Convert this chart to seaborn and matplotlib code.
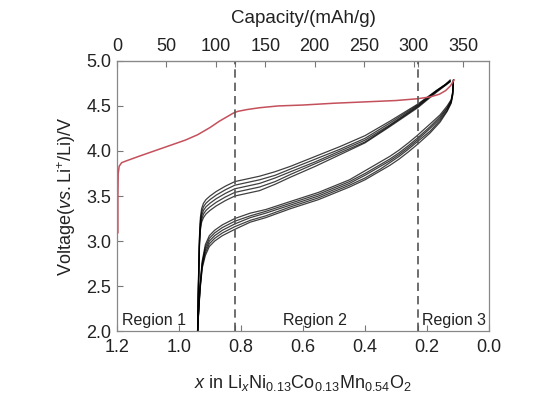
import numpy as np
import pandas as pd
import seaborn as sns
import matplotlib.pyplot as plt

# first charge (red)
first_x = [1.197, 1.197, 1.196, 1.193, 1.185, 1.170, 1.130, 1.080, 1.030, 0.980, 0.940, 0.900, 0.870, 0.845,
           0.825, 0.810, 0.780, 0.740, 0.680, 0.600, 0.500, 0.400, 0.300, 0.230, 0.190, 0.160, 0.140, 0.125, 0.112]
first_v = [3.09, 3.50, 3.75, 3.83, 3.87, 3.89, 3.94, 4.00, 4.06, 4.12, 4.18, 4.26, 4.33, 4.38,
           4.42, 4.44, 4.46, 4.48, 4.50, 4.51, 4.53, 4.545, 4.56, 4.58, 4.60, 4.63, 4.67, 4.72, 4.79]

# following charges (black, upper bundle)
chg_x = [0.940, 0.937, 0.934, 0.931, 0.927, 0.921, 0.913, 0.900, 0.880, 0.850, 0.820, 0.780,
         0.740, 0.690, 0.640, 0.560, 0.480, 0.400, 0.320, 0.230, 0.170, 0.140, 0.125]
chg_v = [
    [2.00, 2.60, 3.05, 3.26, 3.36, 3.42, 3.46, 3.50, 3.55, 3.61, 3.66, 3.69, 3.72, 3.77, 3.83, 3.94, 4.05, 4.17, 4.33, 4.52, 4.67, 4.74, 4.79],
    [2.00, 2.58, 3.02, 3.22, 3.32, 3.38, 3.42, 3.46, 3.51, 3.57, 3.62, 3.65, 3.68, 3.73, 3.80, 3.91, 4.02, 4.14, 4.31, 4.51, 4.67, 4.74, 4.78],
    [2.00, 2.55, 2.99, 3.19, 3.28, 3.34, 3.38, 3.42, 3.47, 3.53, 3.58, 3.61, 3.64, 3.70, 3.77, 3.88, 4.00, 4.12, 4.29, 4.50, 4.66, 4.74, 4.78],
    [2.00, 2.52, 2.96, 3.15, 3.24, 3.30, 3.34, 3.38, 3.43, 3.49, 3.54, 3.57, 3.60, 3.66, 3.74, 3.86, 3.98, 4.10, 4.28, 4.49, 4.66, 4.73, 4.77],
    [2.00, 2.50, 2.93, 3.12, 3.21, 3.26, 3.30, 3.34, 3.39, 3.45, 3.50, 3.53, 3.56, 3.63, 3.71, 3.83, 3.96, 4.09, 4.27, 4.48, 4.65, 4.73, 4.77],
]

# discharges (black, lower bundle)
dis_x = [0.115, 0.117, 0.122, 0.135, 0.158, 0.190, 0.232, 0.260, 0.290, 0.320, 0.350, 0.400, 0.450,
         0.550, 0.640, 0.720, 0.770, 0.820, 0.860, 0.885, 0.902, 0.915, 0.925, 0.932, 0.937, 0.940]
dis_v = [
    [4.79, 4.66, 4.57, 4.50, 4.40, 4.30, 4.17, 4.09, 4.01, 3.94, 3.88, 3.78, 3.68, 3.54, 3.44, 3.35, 3.31, 3.25, 3.18, 3.12, 3.06, 2.96, 2.78, 2.52, 2.22, 2.00],
    [4.79, 4.65, 4.56, 4.48, 4.38, 4.27, 4.14, 4.06, 3.98, 3.91, 3.85, 3.75, 3.66, 3.52, 3.42, 3.33, 3.28, 3.22, 3.15, 3.09, 3.03, 2.93, 2.76, 2.50, 2.21, 2.00],
    [4.78, 4.64, 4.55, 4.47, 4.36, 4.25, 4.12, 4.04, 3.96, 3.89, 3.83, 3.73, 3.64, 3.50, 3.40, 3.31, 3.26, 3.19, 3.12, 3.06, 3.00, 2.90, 2.74, 2.49, 2.20, 2.00],
    [4.78, 4.63, 4.54, 4.45, 4.34, 4.22, 4.10, 4.02, 3.94, 3.87, 3.80, 3.70, 3.62, 3.48, 3.38, 3.28, 3.23, 3.16, 3.09, 3.03, 2.97, 2.87, 2.72, 2.47, 2.19, 2.00],
    [4.77, 4.62, 4.53, 4.44, 4.32, 4.20, 4.07, 3.99, 3.91, 3.84, 3.78, 3.68, 3.60, 3.46, 3.36, 3.26, 3.21, 3.13, 3.06, 3.00, 2.94, 2.84, 2.70, 2.46, 2.18, 2.00],
]

region_bounds = [0.82, 0.23]
tick_x = [1.2, 1.0, 0.8, 0.6, 0.4, 0.2, 0.0]
tick_cap = [0, 50, 100, 150, 200, 250, 300, 350]
mah_per_li = 313.6

rows = []
for i, v in enumerate(chg_v):
    rows += [(f'c{i}', a, b) for a, b in zip(chg_x, v)]
for i, v in enumerate(dis_v):
    rows += [(f'd{i}', a, b) for a, b in zip(dis_x, v)]
cyc = pd.DataFrame(rows, columns=['cycle', 'x', 'V'])
first = pd.DataFrame({'x': first_x, 'V': first_v})

sns.set_style('ticks')
plt.rcParams['font.family'] = ['Liberation Sans', 'DejaVu Sans']
plt.rcParams['mathtext.fontset'] = 'custom'
plt.rcParams['mathtext.rm'] = 'Liberation Sans'
plt.rcParams['mathtext.it'] = 'Liberation Sans:italic'

fig = plt.figure(figsize=(5.5, 3.98), dpi=100)
ax = fig.add_axes([0.2127, 0.168, 0.6764, 0.679])

sns.lineplot(data=cyc, x='x', y='V', units='cycle', estimator=None, sort=False,
             color='black', lw=0.9, alpha=0.75, ax=ax)
sns.lineplot(data=first, x='x', y='V', sort=False, estimator=None,
             color='#c4505c', lw=1.1, ax=ax)

for b in region_bounds:
    ax.axvline(b, color='#555555', ls=(0, (5, 3)), lw=1.2)

txt = '#222222'
ax.set_xlim(1.2, 0.0)
ax.set_ylim(2.0, 5.0)
ax.set_xticks(tick_x)
ax.set_xticks(region_bounds, minor=True)
ax.set_yticks([2.0, 2.5, 3.0, 3.5, 4.0, 4.5, 5.0])
ax.tick_params(direction='in', length=4, width=0.8, color='#777777', labelsize=13,
               labelcolor=txt, which='both')
ax.tick_params(axis='x', pad=6)
ax.tick_params(axis='y', pad=4)
ax.set_xlabel('$x$ in Li$_x$Ni$_{0.13}$Co$_{0.13}$Mn$_{0.54}$O$_2$', fontsize=13, color=txt, labelpad=12)
ax.set_ylabel('Voltage($vs.$Li$^{+}$/Li)/V', fontsize=13, color=txt, labelpad=6)
for s in ax.spines.values():
    s.set_color('#888888')
    s.set_linewidth(0.9)

top = ax.secondary_xaxis('top', functions=(lambda x: (1.2 - x) * mah_per_li,
                                           lambda c: 1.2 - c / mah_per_li))
top.set_xticks(tick_cap)
top.set_xticks([(1.2 - b) * mah_per_li for b in region_bounds], minor=True)
top.tick_params(direction='in', length=4, width=0.8, color='#777777', labelsize=13,
                labelcolor=txt, which='both', pad=4)
top.set_xlabel('Capacity/(mAh/g)', fontsize=13.5, color=txt, labelpad=11)
top.spines['top'].set_color('#888888')

for xx, label in [(1.185, 'Region 1'), (0.56, 'Region 2'), (0.215, 'Region 3')]:
    ha = 'center' if label == 'Region 2' else 'left'
    ax.text(xx, 2.04, label, ha=ha, va='bottom', fontsize=11.5, color=txt)

fig.savefig('out.png', dpi=100)
